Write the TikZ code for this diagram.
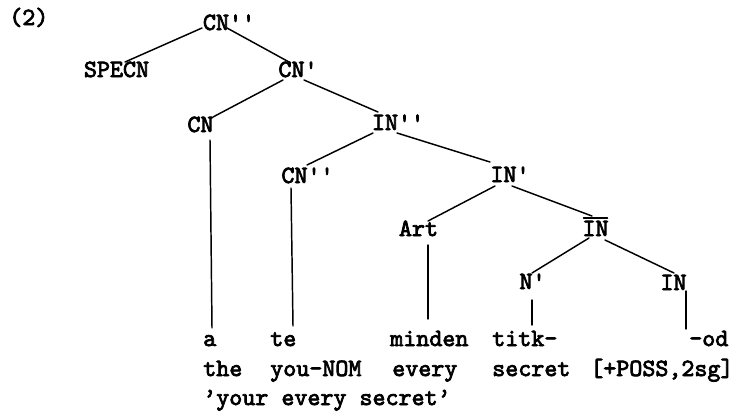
\documentclass[tikz,border=0pt]{standalone}
\usepackage{fontspec}
\newfontfamily\tw[FakeBold=3]{lmmono10-regular.otf}
\usetikzlibrary{calc}
\begin{document}
\begin{tikzpicture}[x=0.75pt,y=-0.75pt,
  lab/.style={font=\tw\fontsize{18.6}{20}\selectfont, inner sep=0pt, anchor=base},
  word/.style={lab, anchor=base west},
  edge/.style={line width=1.1pt, line cap=round}]
\useasboundingbox (0,0) rectangle (738,415);

% example number
\node[word] (num) at (9,25) {(2)};

% tree labels (primes hang to the right of the category)
\node[lab] (cnpp)  at (216,30)    {CN\rlap{\textquotesingle\textquotesingle}};
\node[lab] (specn) at (116.5,77)  {SPECN};
\node[lab] (cnp)   at (291.5,77)  {CN\rlap{\textquotesingle}};
\node[lab] (cn)    at (200.5,132) {CN};
\node[lab] (inpp)  at (385,130)   {IN\rlap{\textquotesingle\textquotesingle}};
\node[lab] (cnpl)  at (294.5,183) {CN\rlap{\textquotesingle\textquotesingle}};
\node[lab] (inp)   at (503.5,182) {IN\rlap{\textquotesingle}};
\node[lab] (art)   at (418.5,236) {Art};
\node[lab] (inbar) at (595.5,236) {IN};
\node[lab] (np)    at (526,289)   {N\rlap{\textquotesingle}};
\node[lab] (inn)   at (673.5,290) {IN};

% bar over IN
\draw[edge] ($(inbar.base)+(-12,-18)$) -- ($(inbar.base)+(12,-18)$);

% Hungarian words
\node[word] (wa)      at (203,346) {a};
\node[word] (wte)     at (270,346) {te};
\node[word] (wminden) at (390,346) {minden};
\node[word] (wtitk)   at (492,346) {titk-};
\node[word] (wod)     at (689,346) {-od};

% glosses
\node[word] (gthe)    at (203,376) {the};
\node[word] (gyou)    at (270,376) {you-NOM};
\node[word] (gevery)  at (392,376) {every};
\node[word] (gsecret) at (492,376) {secret};
\node[word] (gposs)   at (590,376) {[+POSS,2sg]};

% translation
\node[word] (trans)   at (203,405) {’your every secret’};

% branches
\draw[edge] ($(cnpp.base)+(-14,-2)$)  -- ($(specn.base)+(8.5,-15)$);
\draw[edge] ($(cnpp.base)+(11,-2)$)   -- ($(cnp.base)+(-2.5,-15)$);
\draw[edge] ($(cnp.base)+(-8.5,3)$)   -- ($(cn.base)+(12.5,-15)$);
\draw[edge] ($(cnp.base)+(12.5,3)$)   -- ($(inpp.base)+(-7,-18)$);
\draw[edge] ($(inpp.base)+(-12,3)$)   -- ($(cnpl.base)+(12.5,-18)$);
\draw[edge] ($(inpp.base)+(12,3)$)    -- ($(inp.base)+(-13.5,-20)$);
\draw[edge] ($(inp.base)+(-8.5,4)$)   -- ($(art.base)+(9.5,-15)$);
\draw[edge] ($(inp.base)+(8.5,4)$)    -- ($(inbar.base)+(-3.5,-20)$);
\draw[edge] ($(inbar.base)+(-6.5,2)$) -- ($(np.base)+(6,-16)$);
\draw[edge] ($(inbar.base)+(9.5,4)$)  -- ($(inn.base)+(0.5,-17)$);

% lines down to the words
\draw[edge] ($(cn.base)+(9.5,8)$)     -- ($(wa.base west)+(9,-18)$);
\draw[edge] ($(cnpl.base)+(-3.5,5)$)  -- ($(wte.base west)+(23,-20)$);
\draw[edge] ($(art.base)+(9.5,9)$)    -- ($(wminden.base west)+(38,-27)$);
\draw[edge] ($(np.base)+(6,11)$)      -- ($(wtitk.base west)+(40,-21)$);
\draw[edge] ($(inn.base)+(12.5,1)$)   -- ($(wod.base west)+(-3,-17)$);
\end{tikzpicture}
\end{document}
